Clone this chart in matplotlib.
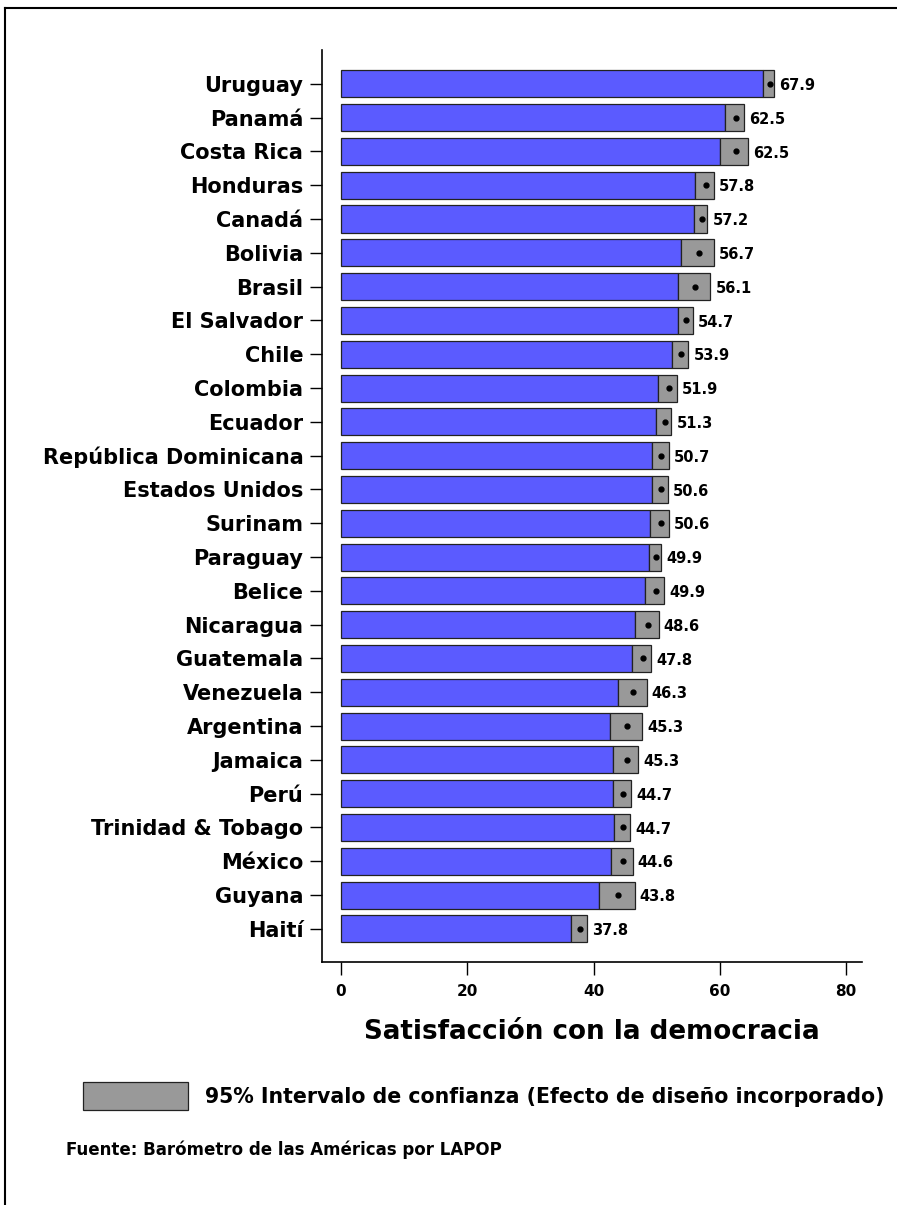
import matplotlib
matplotlib.use("Agg")
import matplotlib.pyplot as plt
from matplotlib.patches import Rectangle
from matplotlib.lines import Line2D

countries = ["Uruguay", "Panamá", "Costa Rica", "Honduras", "Canadá", "Bolivia", "Brasil",
             "El Salvador", "Chile", "Colombia", "Ecuador", "República Dominicana",
             "Estados Unidos", "Surinam", "Paraguay", "Belice", "Nicaragua", "Guatemala",
             "Venezuela", "Argentina", "Jamaica", "Perú", "Trinidad & Tobago", "México",
             "Guyana", "Haití"]
means = [67.9, 62.5, 62.5, 57.8, 57.2, 56.7, 56.1, 54.7, 53.9, 51.9, 51.3, 50.7, 50.6,
         50.6, 49.9, 49.9, 48.6, 47.8, 46.3, 45.3, 45.3, 44.7, 44.7, 44.6, 43.8, 37.8]
ci_low = [66.9, 60.8, 60.0, 56.1, 55.9, 53.9, 53.4, 53.4, 52.4, 50.2, 49.9, 49.3, 49.2,
          48.9, 48.7, 48.2, 46.6, 46.1, 43.8, 42.6, 43.0, 43.1, 43.2, 42.8, 40.9, 36.5]
ci_high = [68.5, 63.8, 64.5, 59.0, 58.0, 59.1, 58.5, 55.7, 55.0, 53.2, 52.3, 51.9, 51.8,
           51.9, 50.7, 51.2, 50.3, 49.1, 48.4, 47.7, 47.1, 46.0, 45.8, 46.2, 46.5, 38.9]
xticks = [0, 20, 40, 60, 80]

plt.rcParams['font.family'] = ['DejaVu Sans']
fig = plt.figure(figsize=(8.97, 12.05), dpi=100)
ax = fig.add_axes([322/897, 1 - 962/1205, (862 - 322)/897, (962 - 50)/1205])

blue = "#5b5bff"
gray = "#999999"
pos = list(range(len(countries)))
widths_ci = [h - l for l, h in zip(ci_low, ci_high)]
ax.barh(pos, ci_low, height=0.8, color=blue, edgecolor="#222222", linewidth=0.9, zorder=2)
ax.barh(pos, widths_ci, left=ci_low, height=0.8, color=gray, edgecolor="#222222", linewidth=0.9, zorder=2)
ax.plot(means, pos, 'o', color='black', markersize=3.5, zorder=3)
for p, m, h in zip(pos, means, ci_high):
    ax.text(h + 0.8, p + 0.05, f"{m:.1f}", va='center', ha='left', fontsize=10.5, fontweight='bold')

ax.set_yticks(pos)
ax.set_yticklabels(countries, fontsize=15, fontweight='bold')
ax.set_ylim(len(countries) - 1 + 0.98, -1.0)
ax.set_xlim(-3.0, 82.5)
ax.set_xticks(xticks)
ax.set_xticklabels([str(t) for t in xticks], fontsize=11, fontweight='bold')
ax.tick_params(axis='y', length=8.5, width=1, pad=5)
ax.tick_params(axis='x', length=9, width=1, pad=7)
for s in ['left', 'bottom']:
    ax.spines[s].set_linewidth(1.2)
ax.spines['top'].set_visible(False)
ax.spines['right'].set_visible(False)
ax.set_xlabel("Satisfacción con la democracia", fontsize=18.8, fontweight='bold', labelpad=14)

# legend
fig.patches.append(Rectangle((83/897, 1 - 1110/1205), 105/897, 28/1205, transform=fig.transFigure,
                             facecolor=gray, edgecolor="#222222", linewidth=0.9))
fig.text(205/897, 1 - 1097/1205, "95% Intervalo de confianza (Efecto de diseño incorporado)",
         fontsize=14.8, fontweight='bold', va='center', ha='left')
fig.text(66/897, 1 - 1150/1205, "Fuente: Barómetro de las Américas por LAPOP",
         fontsize=12, fontweight='bold', va='center', ha='left')

# outer frame
fig.lines.append(Line2D([5/897, 5/897], [0, 1 - 8/1205], transform=fig.transFigure, color='black', linewidth=1.5))
fig.lines.append(Line2D([5/897, 1], [1 - 8/1205, 1 - 8/1205], transform=fig.transFigure, color='black', linewidth=1.5))

fig.savefig("out.png", dpi=100)
